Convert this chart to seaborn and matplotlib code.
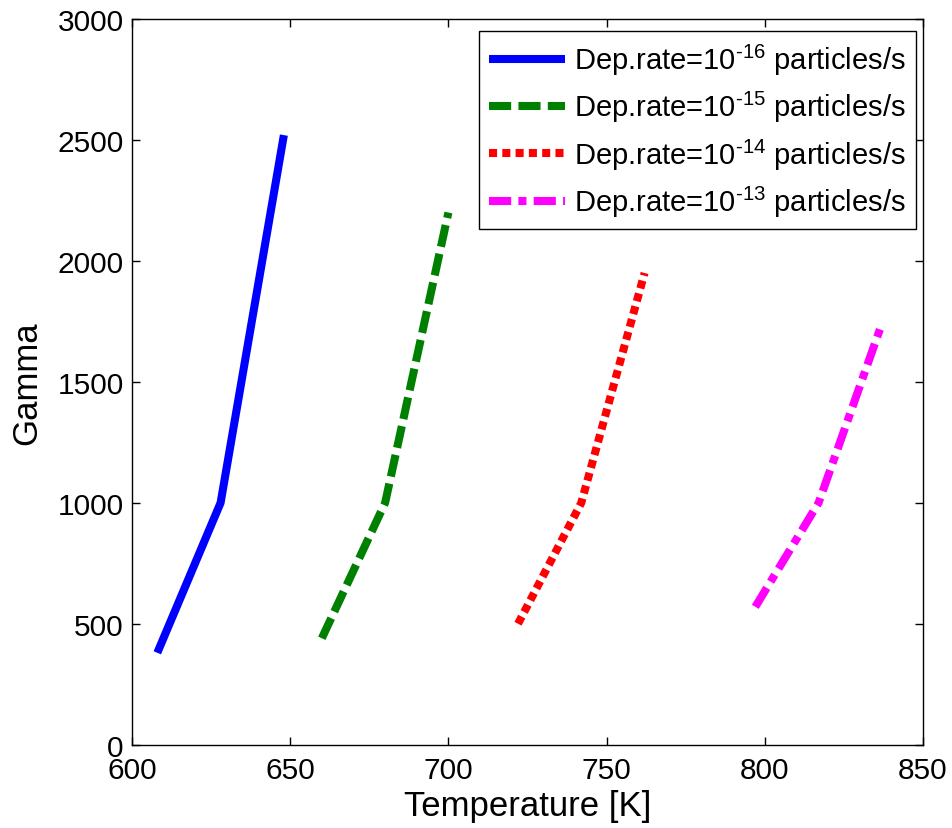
import numpy as np
import pandas as pd
import matplotlib
matplotlib.use("Agg")
import matplotlib.pyplot as plt
import seaborn as sns

# ---- data ----
temp_16 = [608, 628, 648]
gamma_16 = [380, 1000, 2520]
temp_15 = [660, 680, 700]
gamma_15 = [440, 1000, 2200]
temp_14 = [722, 742, 762]
gamma_14 = [500, 1000, 1950]
temp_13 = [797, 817, 837]
gamma_13 = [570, 1000, 1740]
exponents = ["-16", "-15", "-14", "-13"]
colors = ["#0000ff", "#008000", "#ff0000", "#ff00ff"]
xticks = [600, 650, 700, 750, 800, 850]
yticks = [0, 500, 1000, 1500, 2000, 2500, 3000]

sns.set_style("ticks")
plt.rcParams["font.family"] = ["Liberation Sans", "DejaVu Sans"]
plt.rcParams["mathtext.fontset"] = "custom"
plt.rcParams["mathtext.rm"] = "Liberation Sans"
plt.rcParams["mathtext.it"] = "Liberation Sans"
plt.rcParams["mathtext.default"] = "regular"
plt.rcParams["text.color"] = "black"
plt.rcParams["axes.labelcolor"] = "black"

fig = plt.figure(figsize=(9.53, 8.29), dpi=100)
ax = fig.add_axes([132/953, 1-745.7/829, (923-132)/953, (745.7-20)/829])

series = [(temp_16, gamma_16), (temp_15, gamma_15), (temp_14, gamma_14), (temp_13, gamma_13)]
dash_styles = [None, (2.75, 0.9), (1.0, 0.65), (2.75, 0.9, 1.0, 0.9)]
lw = 5.8
for (t, g), e, c, d in zip(series, exponents, colors, dash_styles):
    df = pd.DataFrame({"T": t, "G": g})
    sns.lineplot(data=df, x="T", y="G", ax=ax, color=c, linewidth=lw,
                 label=r"Dep.rate=10$^{\text{" + e + r"}}$ particles/s", sort=False)
    line = ax.lines[-1]
    if d is not None:
        line.set_dashes(d)
    line.set_dash_capstyle("butt")
    line.set_solid_capstyle("butt")

ax.set_xlim(600, 850)
ax.set_ylim(0, 3000)
ax.set_xticks(xticks)
ax.set_yticks(yticks)
ax.tick_params(direction="in", length=6, width=1, top=True, right=True,
               labelsize=21.5, colors="black", labelcolor="black")
ax.tick_params(axis="x", pad=8)
ax.tick_params(axis="y", pad=6)
for s in ax.spines.values():
    s.set_visible(True)
    s.set_color("black")
    s.set_linewidth(1.0)
ax.set_xlabel("Temperature [K]", fontsize=25, labelpad=4, color="black")
ax.set_ylabel("Gamma", fontsize=25, labelpad=10, color="black")

leg = ax.legend(loc="upper right", bbox_to_anchor=(0.9908, 0.983), borderaxespad=0,
                fontsize=21, frameon=True, fancybox=False, handlelength=2.6,
                labelspacing=0.42, handletextpad=0.3, borderpad=0.35)
leg.get_frame().set_edgecolor("black")
leg.get_frame().set_linewidth(1.0)
leg.get_frame().set_alpha(1)
for txt in leg.get_texts():
    txt.set_color("black")

fig.savefig("out.png", dpi=100)
